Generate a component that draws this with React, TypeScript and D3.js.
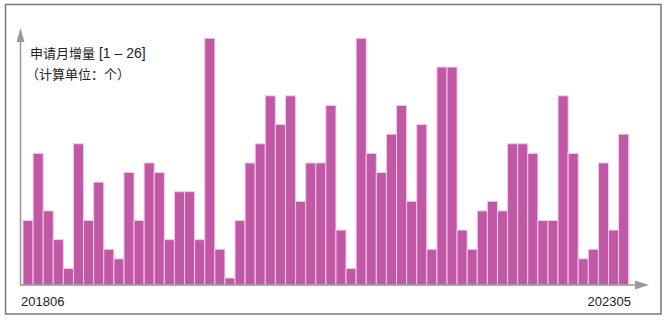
import React from "react";
import * as d3 from "d3";

const months: string[] = (() => {
  const out: string[] = [];
  let y = 2018, m = 6;
  for (let i = 0; i < 60; i++) {
    out.push(`${y}${String(m).padStart(2, "0")}`);
    m++;
    if (m > 12) { m = 1; y++; }
  }
  return out;
})();

const values: number[] = [
  7, 14, 8, 5, 2, 15, 7, 11, 4, 3,
  12, 7, 13, 12, 5, 10, 10, 5, 26, 4,
  1, 7, 13, 15, 20, 17, 20, 9, 13, 13,
  19, 6, 2, 26, 14, 12, 16, 19, 9, 17,
  4, 23, 23, 6, 4, 8, 9, 8, 15, 15,
  14, 7, 7, 20, 14, 3, 4, 13, 6, 16,
];

const titleMain = "申请月增量";
const titleRange = " [1 – 26]";
const titleLine2 = "（计算单位：个）";
const startLabel = "201806";
const endLabel = "202305";

const W = 670, H = 322;
const baseline = 285;
const FONT = "'Liberation Sans', Arial, sans-serif";
const CJK = "'Noto Sans CJK SC', sans-serif";

export default function App() {
  const x = d3.scaleBand<string>().domain(months).range([23, 628.7]).padding(0);
  const y = d3.scaleLinear().domain([1, 26]).range([baseline - 7, baseline - 246.7]);

  return (
    <svg width={W} height={H} style={{ position: "absolute", left: 0, top: 0 }}>
      <rect x={0} y={0} width={W} height={H} fill="#fff" />
      <rect x={5.5} y={4.5} width={655.5} height={309.5} fill="none" stroke="#777" strokeWidth={1.5} />
      {values.map((v, i) => (
        <rect
          key={i}
          x={x(months[i])!}
          y={y(v)}
          width={x.bandwidth()}
          height={baseline - y(v)}
          fill="#c058a5"
          stroke="#f3c9ea"
          strokeWidth={1}
        />
      ))}
      {/* axes */}
      <line x1={20.5} y1={baseline} x2={20.5} y2={36} stroke="#999" strokeWidth={1.5} />
      <path d={`M20.5,28 L16.5,42 L24.5,42 Z`} fill="#999" />
      <line x1={20} y1={baseline} x2={640} y2={baseline} stroke="#999" strokeWidth={1.5} />
      <path d={`M649,${baseline} L635,${baseline - 4.5} L635,${baseline + 4.5} Z`} fill="#999" />
      <text x={30} y={58} fontSize={13} fill="#222">
        <tspan fontFamily={CJK}>{titleMain}</tspan>
        <tspan fontFamily={FONT} fontSize={14}>{titleRange}</tspan>
      </text>
      <text x={26} y={79} fontFamily={CJK} fontSize={13} fill="#222">{titleLine2}</text>
      <text x={21} y={306} fontFamily={FONT} fontSize={13} fill="#222">{startLabel}</text>
      <text x={631} y={306} fontFamily={FONT} fontSize={13} fill="#222" textAnchor="end">{endLabel}</text>
    </svg>
  );
}
